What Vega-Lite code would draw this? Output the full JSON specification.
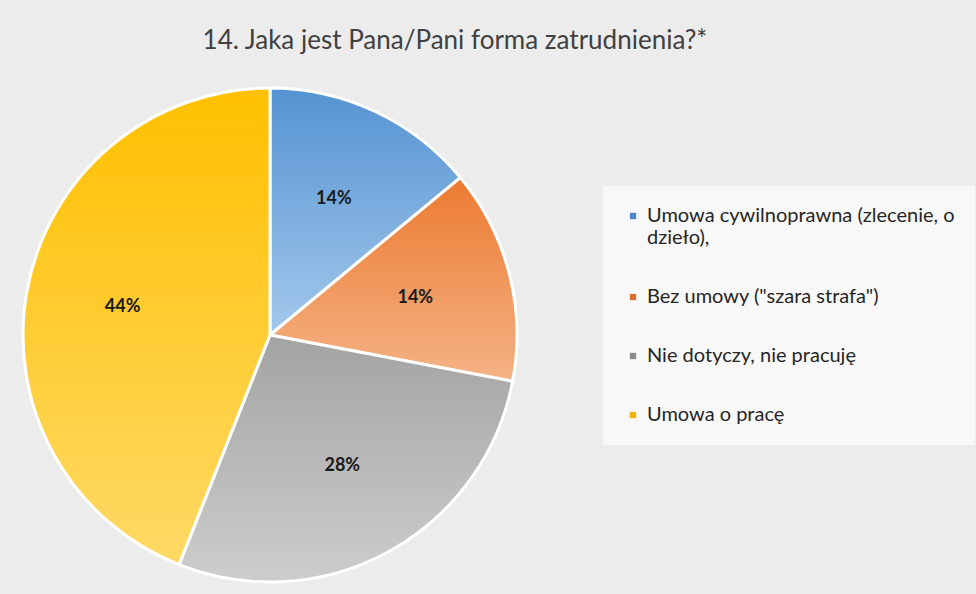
{
  "$schema": "https://vega.github.io/schema/vega-lite/v6.json",
  "autosize": "none",
  "width": 526,
  "height": 518,
  "padding": {"left": 7, "top": 76, "right": 443, "bottom": 0},
  "background": "#ececec",
  "config": {"view": {"stroke": null}, "font": "Lato"},
  "title": {
    "text": "14. Jaka jest Pana/Pani forma zatrudnienia?*",
    "fontSize": 26,
    "fontWeight": "normal",
    "color": "#404040",
    "font": "Lato",
    "anchor": "middle",
    "dx": 185,
    "offset": 22
  },
  "data": {
    "values": [
      {"cat": "Umowa cywilnoprawna (zlecenie, o dzieło),", "value": 0.14, "idx": 1},
      {"cat": "Bez umowy (\"szara strafa\")", "value": 0.14, "idx": 2},
      {"cat": "Nie dotyczy, nie pracuję", "value": 0.28, "idx": 3},
      {"cat": "Umowa o pracę", "value": 0.44, "idx": 4}
    ]
  },
  "encoding": {
    "theta": {"field": "value", "type": "quantitative", "stack": true},
    "order": {"field": "idx", "type": "quantitative"}
  },
  "layer": [
    {
      "mark": {"type": "arc", "outerRadius": 247},
      "encoding": {
        "color": {
          "field": "cat",
          "type": "nominal",
          "scale": {
            "domain": ["Umowa cywilnoprawna (zlecenie, o dzieło),", "Bez umowy (\"szara strafa\")", "Nie dotyczy, nie pracuję", "Umowa o pracę"],
            "range": ["#4f86c6", "#d9702c", "#8c8c8c", "#f0b400"]
          },
          "legend": {
            "orient": "none",
            "legendX": 596,
            "legendY": 110,
            "title": null,
            "symbolType": "square",
            "symbolSize": 40,
            "symbolStrokeWidth": 0,
            "labelFont": "Lato",
            "labelFontSize": 20,
            "labelColor": "#262626",
            "labelLimit": 400,
            "labelOffset": 4,
            "rowPadding": 39,
            "padding": 20,
            "fillColor": "rgba(255,255,255,0.65)",
            "labelExpr": "datum.label == 'Umowa cywilnoprawna (zlecenie, o dzieło),' ? ['Umowa cywilnoprawna (zlecenie, o', 'dzieło),'] : datum.label"
          }
        }
      }
    },
    {
      "mark": {"type": "arc", "outerRadius": 247, "stroke": "#ffffff", "strokeWidth": 3},
      "encoding": {
        "fill": {
          "condition": [
            {"test": "datum.idx === 1", "value": {"gradient": "linear", "x1": 0, "y1": 0, "x2": 0, "y2": 1, "stops": [{"offset": 0, "color": "#5593d2"}, {"offset": 1, "color": "#a3c8ec"}]}},
            {"test": "datum.idx === 2", "value": {"gradient": "linear", "x1": 0, "y1": 0, "x2": 0, "y2": 1, "stops": [{"offset": 0, "color": "#ec7a30"}, {"offset": 1, "color": "#f5b386"}]}},
            {"test": "datum.idx === 3", "value": {"gradient": "linear", "x1": 0, "y1": 0, "x2": 0, "y2": 1, "stops": [{"offset": 0, "color": "#a3a3a3"}, {"offset": 1, "color": "#cdcdcd"}]}}
          ],
          "value": {"gradient": "linear", "x1": 0, "y1": 0, "x2": 0, "y2": 1, "stops": [{"offset": 0, "color": "#ffc000"}, {"offset": 1, "color": "#ffd966"}]}
        }
      }
    },
    {
      "mark": {"type": "text", "radius": 150, "fontSize": 18, "fontWeight": "bold", "font": "Lato", "color": "#1a1a1a"},
      "encoding": {
        "text": {"field": "value", "type": "quantitative", "format": ".0%"}
      }
    }
  ]
}
